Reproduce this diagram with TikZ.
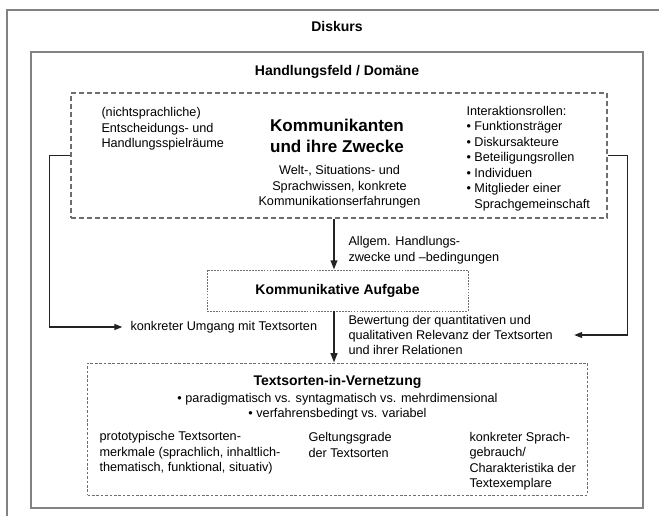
\documentclass[tikz,border=0pt]{standalone}
\usepackage{fontspec}
\setmainfont{Liberation Sans}
\usetikzlibrary{arrows.meta}

\tikzset{every picture/.style={line width=0.75pt}}

\begin{document}
\begin{tikzpicture}[x=0.75pt,y=0.75pt,yscale=-1,xscale=1,
  txt/.style={inner sep=0.75pt, font=\fontsize{9.5}{11.6}\selectfont, align=left},
  ctxt/.style={txt, align=center},
  ttl/.style={inner sep=0.75pt, font=\fontsize{10.5}{12.5}\selectfont\bfseries, align=center},
  frame/.style={draw={rgb, 255:red, 130; green, 130; blue, 130 }, line width=1.1pt},
  dbox/.style={draw={rgb, 255:red, 110; green, 110; blue, 110 }, line width=0.8pt, dash pattern=on 3.5pt off 2.5pt, inner sep=0pt},
  sbox/.style={draw={rgb, 255:red, 110; green, 110; blue, 110 }, line width=0.6pt, dash pattern=on 1.3pt off 0.9pt, inner sep=0pt},
  arr/.style={draw={rgb, 255:red, 35; green, 35; blue, 35 }, line width=0.9pt, -{Triangle[length=6pt,width=4.5pt]}},
  thk/.style={arr, line width=1.4pt, -{Triangle[length=7pt,width=5pt]}}
]
\useasboundingbox (0,0) rectangle (659,516);

%Shape: Frame Diskurs
\draw [frame] (7,530) -- (7,10) -- (670,10) ;
%Shape: Frame Handlungsfeld
\draw [frame] (31,52) rectangle (643,508) ;

%Shape: Rectangle [Kommunikanten]
\node (komm) [dbox, minimum width=402pt, minimum height=93.75pt] at (339,155.5) {};
%Shape: Rectangle [Aufgabe]
\node (aufgabe) [sbox, minimum width=195.75pt, minimum height=30.75pt] at (337.5,290.5) {};
%Shape: Rectangle [Vernetzung]
\node (netz) [sbox, line width=0.7pt, dash pattern=on 2pt off 1.3pt, minimum width=375pt, minimum height=99pt] at (337.5,429) {};

% Text Node
\node (diskurs) [ttl] at (337,27) {Diskurs};
% Text Node
\node (feld) [ttl] at (337,72) {Handlungsfeld / Domäne};
% Text Node
\node (spiel) [txt, anchor=west] at (100,129) {(nichtsprachliche)\\Entscheidungs- und\\Handlungsspielräume};
% Text Node
\node (zwecke) [inner sep=0.75pt, font=\fontsize{12.8}{15.75}\selectfont\bfseries, align=center] at (337,135.5) {Kommunikanten\\und ihre Zwecke};
% Text Node
\node (wissen) [ctxt] at (339.5,187) {Welt-, Situations- und\\Sprachwissen, konkrete\\Kommunikationserfahrungen};
% Text Node
\node (rollen) [txt, anchor=west] at (465,158.5) {Interaktionsrollen:\\\textbullet\ Funktionsträger\\\textbullet\ Diskursakteure\\\textbullet\ Beteiligungsrollen\\\textbullet\ Individuen\\\textbullet\ Mitglieder einer\\\phantom{\textbullet\ }Sprachgemeinschaft};
% Text Node
\node (allg) [txt, anchor=west] at (347,250) {Allgem. Handlungs-\\zwecke und \textendash bedingungen};
% Text Node
\node (aufg) [ttl] at (337.5,290.5) {Kommunikative Aufgabe};
% Text Node
\node (umgang) [txt, anchor=west] at (129,327) {konkreter Umgang mit Textsorten};
% Text Node
\node (bewertung) [txt, anchor=west] at (347,335) {Bewertung der quantitativen und\\qualitativen Relevanz der Textsorten\\und ihrer Relationen};
% Text Node
\node (vernetzung) [ttl] at (337.5,382) {Textsorten-in-Vernetzung};
% Text Node
\node (dim) [ctxt] at (337.5,406.5) {\textbullet\ paradigmatisch vs. syntagmatisch vs. mehrdimensional\\\textbullet\ verfahrensbedingt vs. variabel};
% Text Node
\node (merkmale) [txt, anchor=west] at (98,453) {prototypische Textsorten-\\merkmale (sprachlich, inhaltlich-\\thematisch, funktional, situativ)};
% Text Node
\node (geltung) [txt, anchor=west] at (307,445) {Geltungsgrade\\der Textsorten};
% Text Node
\node (gebrauch) [txt, anchor=west] at (468,461) {konkreter Sprach-\\gebrauch/\\Charakteristika der\\Textexemplare};

%Straight Lines
\coordinate (ax) at (334,0);
\draw [thk] (ax |- komm.south) -- (ax |- aufgabe.north) ;
\draw [thk] (ax |- aufgabe.south) -- (ax |- netz.north) ;
%Straight Lines
\draw [arr] (komm.west) -- ++(-21,0) |- (umgang.west) [shorten >=5pt] ;
\draw [arr, shorten >=15pt] (komm.east) -- ++(20,0) |- (bewertung.east) ;

\end{tikzpicture}
\end{document}
